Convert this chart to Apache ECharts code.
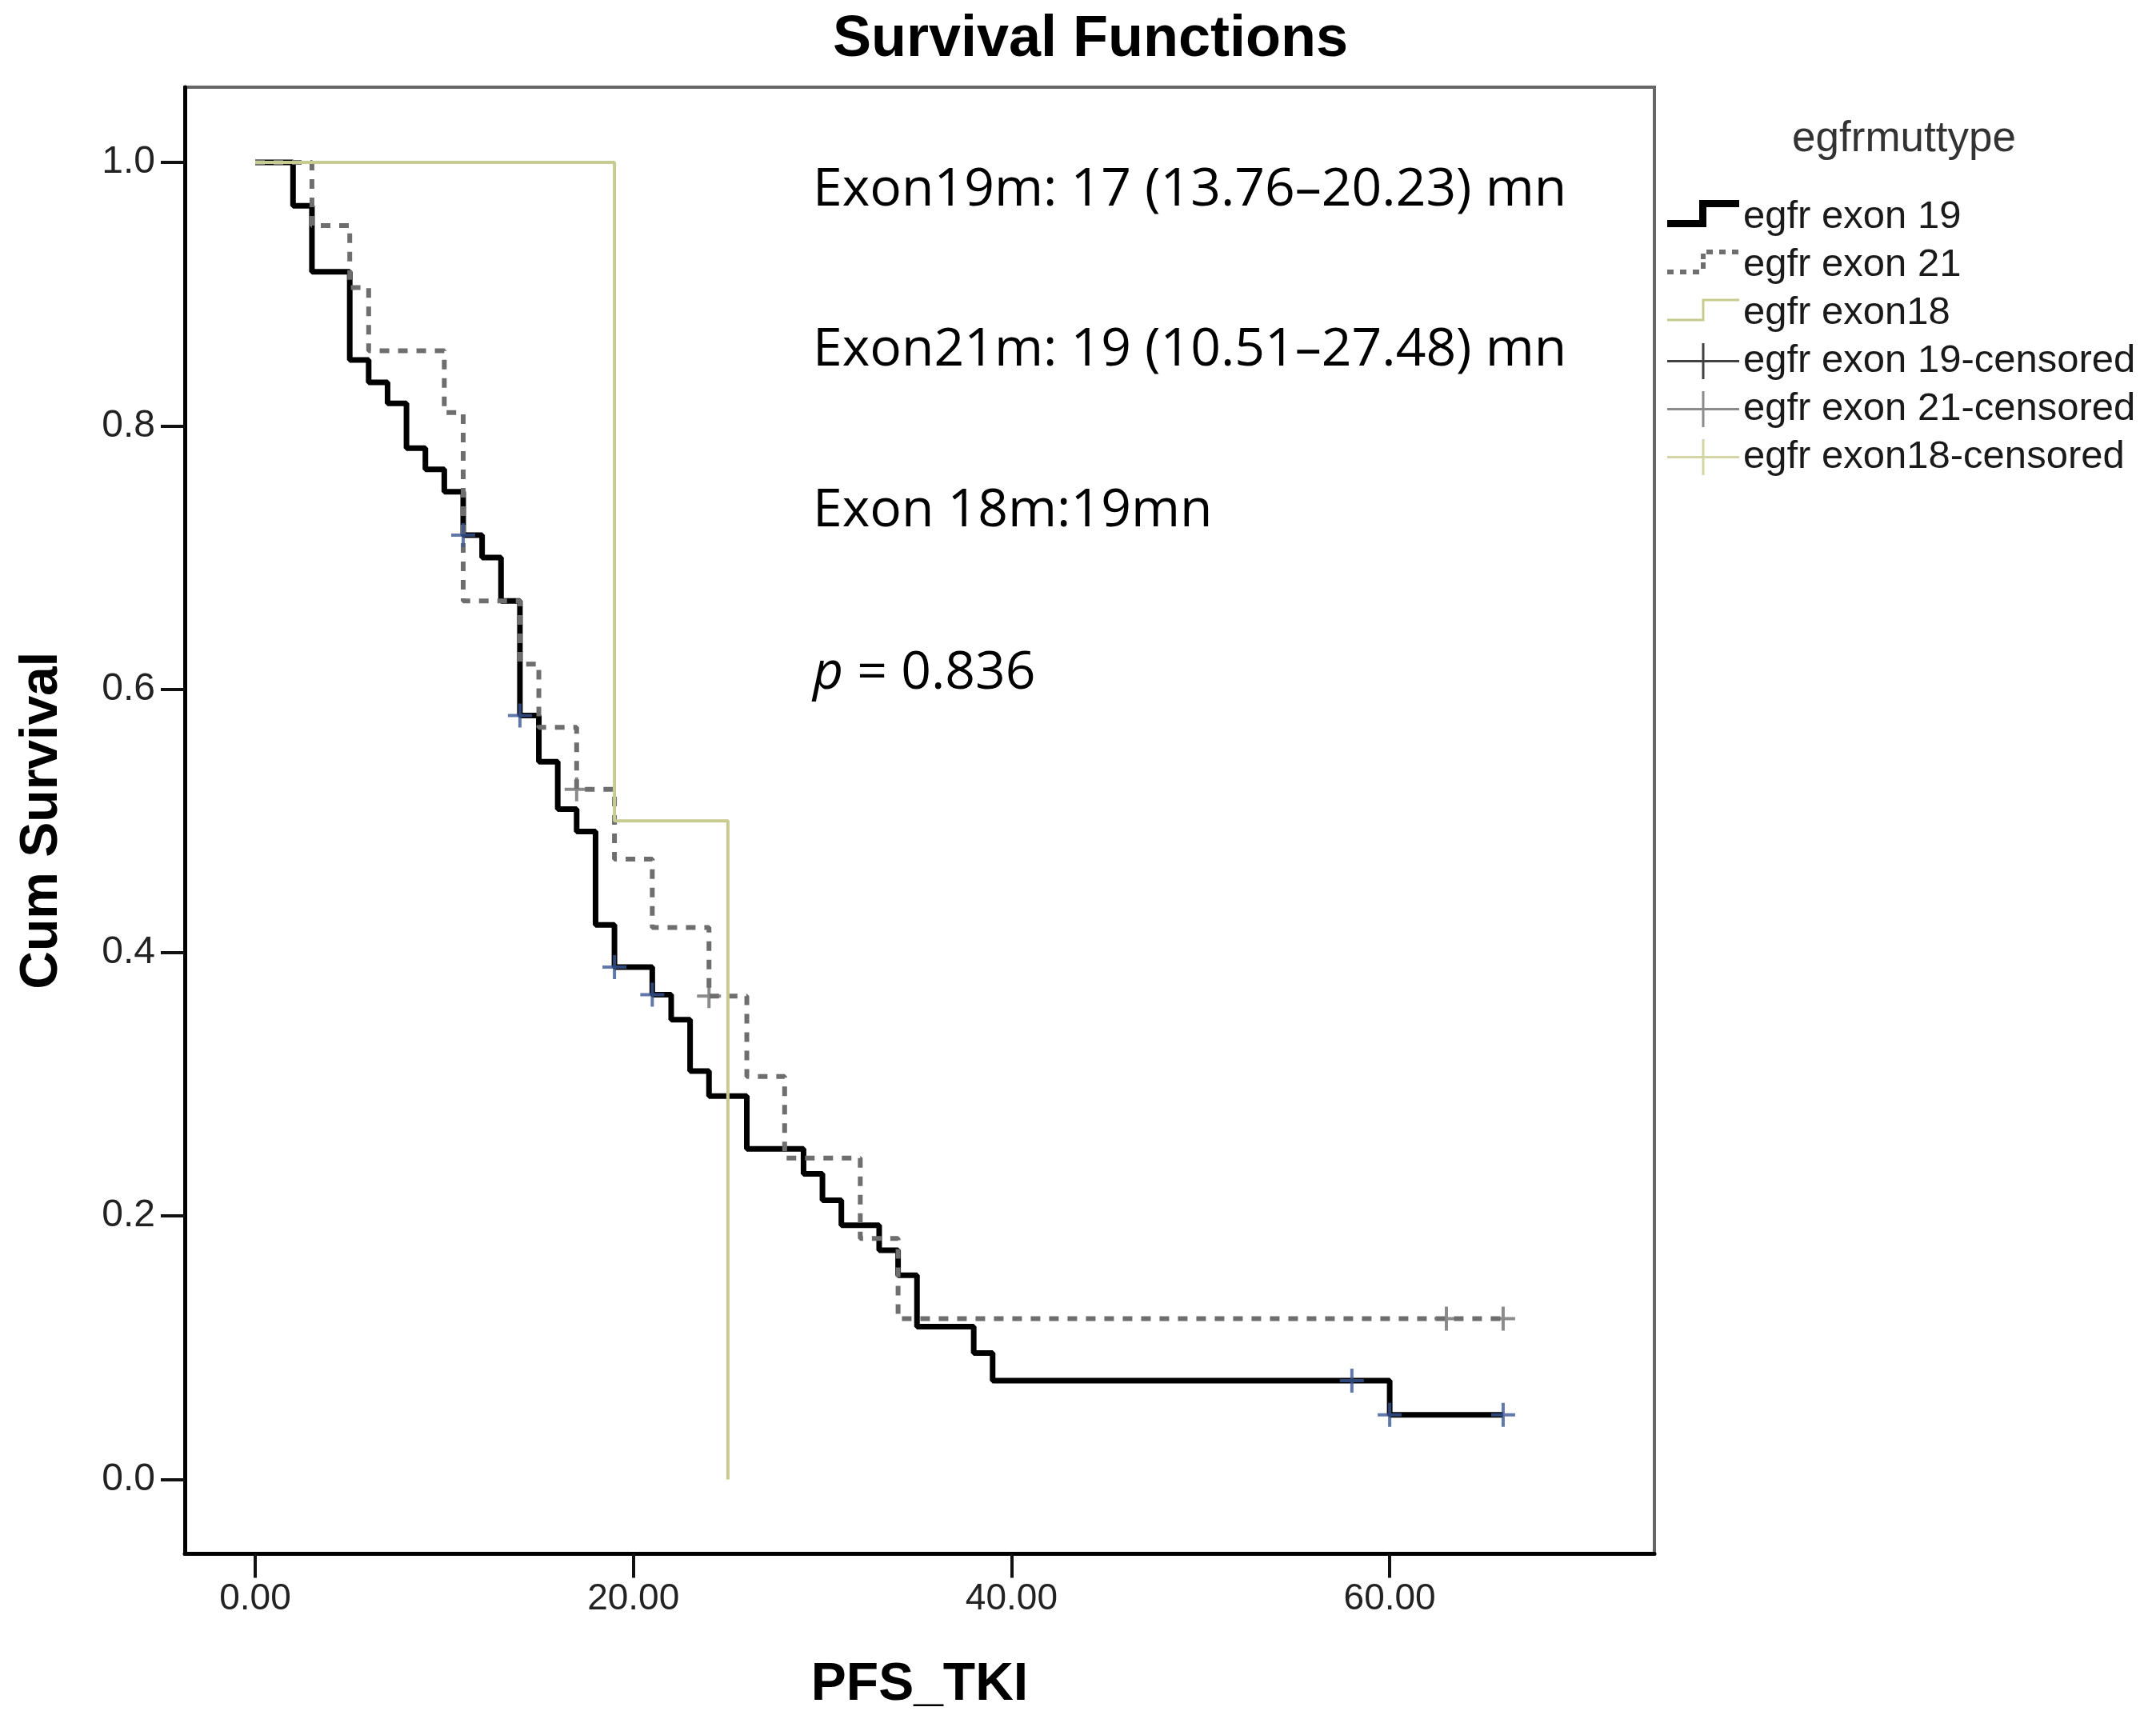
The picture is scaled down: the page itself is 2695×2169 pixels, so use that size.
<!DOCTYPE html>
<html><head><meta charset="utf-8">
<script src="https://cdn.jsdelivr.net/npm/echarts@6/dist/echarts.min.js"></script>
<style>html,body{margin:0;padding:0;background:#fff}#c{width:2695px;height:2169px}</style>
</head><body><div id="c"></div>
<script>
// ---- data ----
const xTicks = [0, 20, 40, 60];
const yTicks = [0, 0.2, 0.4, 0.6, 0.8, 1.0];
const seriesNames = ['egfr exon 19', 'egfr exon 21', 'egfr exon18',
  'egfr exon 19-censored', 'egfr exon 21-censored', 'egfr exon18-censored'];

const exon19Times = [0, 2, 3, 5, 6, 7, 8, 9, 10, 11, 12, 13, 14, 15, 16, 17, 18, 19, 21, 22, 23, 24, 26, 29, 30, 31, 33, 34, 35, 38, 39, 60, 66];
const exon19Surv  = [1.0, 0.967, 0.917, 0.850, 0.833, 0.817, 0.783, 0.767, 0.750, 0.717, 0.700, 0.667, 0.580, 0.545, 0.509, 0.492, 0.421, 0.389, 0.368, 0.349, 0.310, 0.291, 0.251, 0.232, 0.212, 0.193, 0.174, 0.155, 0.116, 0.096, 0.075, 0.049, 0.049];

const exon21Times = [0, 3, 5, 6, 10, 11, 14, 15, 17, 19, 21, 24, 26, 28, 32, 34, 66];
const exon21Surv  = [1.0, 0.952, 0.905, 0.857, 0.810, 0.667, 0.619, 0.571, 0.524, 0.471, 0.419, 0.367, 0.306, 0.244, 0.183, 0.122, 0.122];

const exon18Times = [0, 19, 25];
const exon18Surv  = [1.0, 0.5, 0.0];

const cens19Times = [11, 14, 19, 21, 58, 60, 66];
const cens19Surv  = [0.717, 0.580, 0.389, 0.368, 0.075, 0.049, 0.049];
const cens21Times = [17, 24, 63, 66];
const cens21Surv  = [0.524, 0.367, 0.122, 0.122];
const cens18Times = [];
const cens18Surv  = [];

const annotations = ['Exon19m: 17 (13.76\u201320.23) mn', 'Exon21m: 19 (10.51\u201327.48) mn', 'Exon 18m:19mn'];
const pText = '{i|p} = 0.836';

// ---- helpers ----
const zip = (a, b) => a.map((v, i) => [v, b[i]]);
const dots = ' M0,0 h0.01 v0.01 Z M89.99,44.99 h0.01 v0.01 Z';
const iconStep = 'path://M0,26 H40 V1 H90 V10 H49 V35 H0 Z' + dots;
const iconDash = 'path://M0,28 H8 V34 H0 Z M16,28 H24 V34 H16 Z M32,28 H40 V34 H32 Z M42,19 H48 V27 H42 Z M42,8 H48 V15 H42 Z M49,3 H57 V9 H49 Z M65,3 H73 V9 H65 Z M81,3 H89 V9 H81 Z' + dots;
const iconThin = 'path://M0,29.5 H43.5 V4.5 H90 V7.5 H46.5 V32.5 H0 Z' + dots;
const iconCens = 'path://M0,21 H43.5 V0 H46.5 V21 H90 V24 H46.5 V45 H43.5 V24 H0 Z';
const plusSym = 'path://M0,13 H13 V0 H17 V13 H30 V17 H17 V30 H13 V17 H0 Z';

const C19 = '#000000', C21 = '#6e6e6e', C18 = '#c8cb90', CBLUE = '#3a5795';

const chart = echarts.init(document.getElementById('c'), null, {renderer: 'canvas'});
const labelFont = 'Liberation Sans, Arial, sans-serif';

chart.setOption({
  animation: false,
  backgroundColor: '#ffffff',
  grid: {left: 231, right: 627, top: 109, bottom: 226.5, show: true, borderColor: '#666', borderWidth: 4, containLabel: false},
  xAxis: {
    type: 'value', min: -3.724, max: 74.0,
    axisLine: {show: true, onZero: false, lineStyle: {color: '#000', width: 5}},
    axisTick: {show: true, customValues: xTicks, length: 30, lineStyle: {color: '#111', width: 4}},
    axisLabel: {customValues: xTicks, formatter: v => v.toFixed(2), fontFamily: labelFont, fontSize: 46, color: '#222', margin: 34},
    splitLine: {show: false},
    name: 'PFS_TKI', nameLocation: 'middle', nameGap: 131,
    nameTextStyle: {fontFamily: labelFont, fontWeight: 'bold', fontSize: 66, color: '#000'}
  },
  yAxis: {
    type: 'value', min: -0.0565, max: 1.0571,
    axisLine: {show: true, onZero: false, lineStyle: {color: '#000', width: 5}},
    axisTick: {show: true, customValues: yTicks, length: 30, lineStyle: {color: '#111', width: 4}},
    axisLabel: {customValues: yTicks, formatter: v => v.toFixed(1), fontFamily: labelFont, fontSize: 48, color: '#222', margin: 37},
    splitLine: {show: false},
    name: 'Cum Survival', nameLocation: 'middle', nameGap: 145,
    nameTextStyle: {fontFamily: labelFont, fontWeight: 'bold', fontSize: 66, color: '#000'}
  },
  legend: {
    orient: 'vertical', left: 2079, top: 242, itemWidth: 90, itemHeight: 45, itemGap: 11,
    selectedMode: false,
    itemStyle: {borderWidth: 0},
    textStyle: {fontFamily: labelFont, fontSize: 49, color: '#1a1a1a', lineHeight: 45},
    data: [
      {name: seriesNames[0], icon: iconStep},
      {name: seriesNames[1], icon: iconDash},
      {name: seriesNames[2], icon: iconThin},
      {name: seriesNames[3], icon: iconCens, itemStyle: {color: '#111'}},
      {name: seriesNames[4], icon: iconCens},
      {name: seriesNames[5], icon: iconCens}
    ]
  },
  graphic: [
    {type: 'text', x: 1363, y: 50, style: {text: 'Survival Functions', fontFamily: labelFont, fontWeight: 'bold', fontSize: 72, fill: '#000', align: 'center', verticalAlign: 'middle', textAlign: 'center', textVerticalAlign: 'middle'}},
    {type: 'text', x: 2380, y: 174, style: {text: 'egfrmuttype', fontFamily: labelFont, fontSize: 53, fill: '#333', align: 'center', verticalAlign: 'middle', textAlign: 'center', textVerticalAlign: 'middle'}},
    {type: 'text', x: 1016, y: 238, style: {text: annotations[0], fontFamily: 'Open Sans', fontSize: 66, fill: '#000', align: 'left', verticalAlign: 'middle', textAlign: 'left', textVerticalAlign: 'middle'}},
    {type: 'text', x: 1016, y: 438, style: {text: annotations[1], fontFamily: 'Open Sans', fontSize: 66, fill: '#000', align: 'left', verticalAlign: 'middle', textAlign: 'left', textVerticalAlign: 'middle'}},
    {type: 'text', x: 1016, y: 639, style: {text: annotations[2], fontFamily: 'Open Sans', fontSize: 66, fill: '#000', align: 'left', verticalAlign: 'middle', textAlign: 'left', textVerticalAlign: 'middle'}},
    {type: 'text', x: 1016, y: 842, style: {text: pText, fontFamily: 'Open Sans', fontSize: 66, fill: '#000', align: 'left', verticalAlign: 'middle', textAlign: 'left', textVerticalAlign: 'middle',
      rich: {i: {fontFamily: 'Open Sans', fontStyle: 'italic', fontSize: 66, fill: '#000'}}}}
  ],
  series: [
    {name: seriesNames[0], type: 'line', step: 'end', data: zip(exon19Times, exon19Surv), showSymbol: false, symbol: 'none',
      lineStyle: {color: C19, width: 7}, itemStyle: {color: C19}, z: 2},
    {name: seriesNames[1], type: 'line', step: 'end', data: zip(exon21Times, exon21Surv), showSymbol: false, symbol: 'none',
      lineStyle: {color: C21, width: 6, type: [12, 11]}, itemStyle: {color: C21}, z: 3},
    {name: seriesNames[2], type: 'line', step: 'end', data: zip(exon18Times, exon18Surv), showSymbol: false, symbol: 'none',
      lineStyle: {color: C18, width: 4}, itemStyle: {color: C18}, z: 4},
    {name: seriesNames[3], type: 'scatter', data: zip(cens19Times, cens19Surv), symbol: plusSym, symbolSize: 30,
      itemStyle: {color: CBLUE}, z: 5},
    {name: seriesNames[4], type: 'scatter', data: zip(cens21Times, cens21Surv), symbol: plusSym, symbolSize: 30,
      itemStyle: {color: C21}, z: 5},
    {name: seriesNames[5], type: 'scatter', data: zip(cens18Times, cens18Surv), symbol: plusSym, symbolSize: 30,
      itemStyle: {color: C18}, z: 5}
  ]
});
</script></body></html>
